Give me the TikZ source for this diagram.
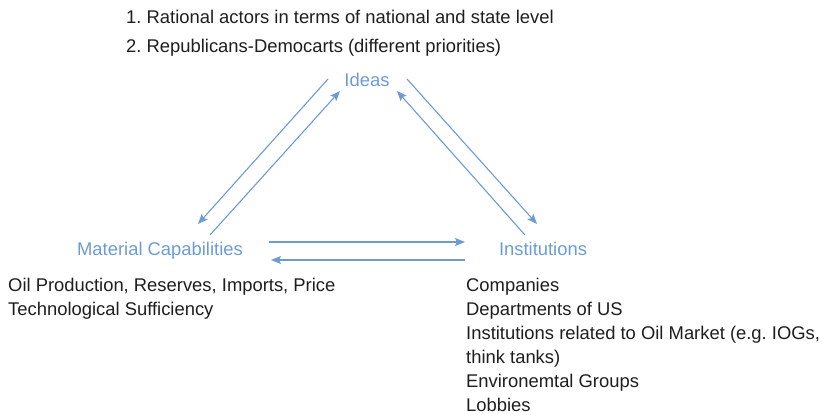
\documentclass[tikz,border=0pt]{standalone}
\usepackage{fontspec}
\setmainfont{Liberation Sans}
\frenchspacing
\usetikzlibrary{arrows.meta,calc}
\definecolor{myblue}{RGB}{108,155,214}
\definecolor{mytext}{RGB}{30,30,30}
\tikzset{
    common/.style={inner sep=0pt, font=\fontsize{18.4}{24}\selectfont},
    factor/.style={common, text=myblue, text height=13pt, text depth=0pt},
    notes/.style={common, text=mytext, anchor=north west, align=left},
    flow/.style={myblue, line width=1.1pt, -{Stealth[length=10pt, width=8pt, inset=2pt]}}
}
\begin{document}
\begin{tikzpicture}[x=1pt, y=-1pt]
    \useasboundingbox (0,0) rectangle (825,415);
    \node[factor] (ideas) at (367,80) {Ideas};
    \node[factor] (mat) at (160,249) {Material Capabilities};
    \node[factor] (inst) at (543,249) {Institutions};
    \node[notes, font=\fontsize{18.4}{29}\selectfont] (points) at (126,10)
        {1. Rational actors in terms of national and state level\\2. Republicans-Democarts (different priorities)};
    \node[notes] (matnotes) at (8,278)
        {Oil Production, Reserves, Imports, Price\\Technological Sufficiency};
    \node[notes] (instnotes) at (466,278)
        {Companies\\Departments of US\\Institutions related to Oil Market (e.g. IOGs,\\think tanks)\\Environemtal Groups\\Lobbies};

    \draw[flow] ($(ideas)+(-39,-1)$) -- ($(mat)+(38,-25)$);
    \draw[flow] ($(mat)+(50,-14)$) -- ($(ideas)+(-27,11)$);
    \draw[flow] ($(ideas)+(40,-1)$) -- ($(inst)+(-6,-25)$);
    \draw[flow] ($(inst)+(-18,-14)$) -- ($(ideas)+(30,11)$);
    \draw[flow] ($(mat)+(109,-7)$) -- ($(inst)+(-78,-7)$);
    \draw[flow] ($(inst)+(-78,11)$) -- ($(mat)+(111,11)$);
\end{tikzpicture}
\end{document}
